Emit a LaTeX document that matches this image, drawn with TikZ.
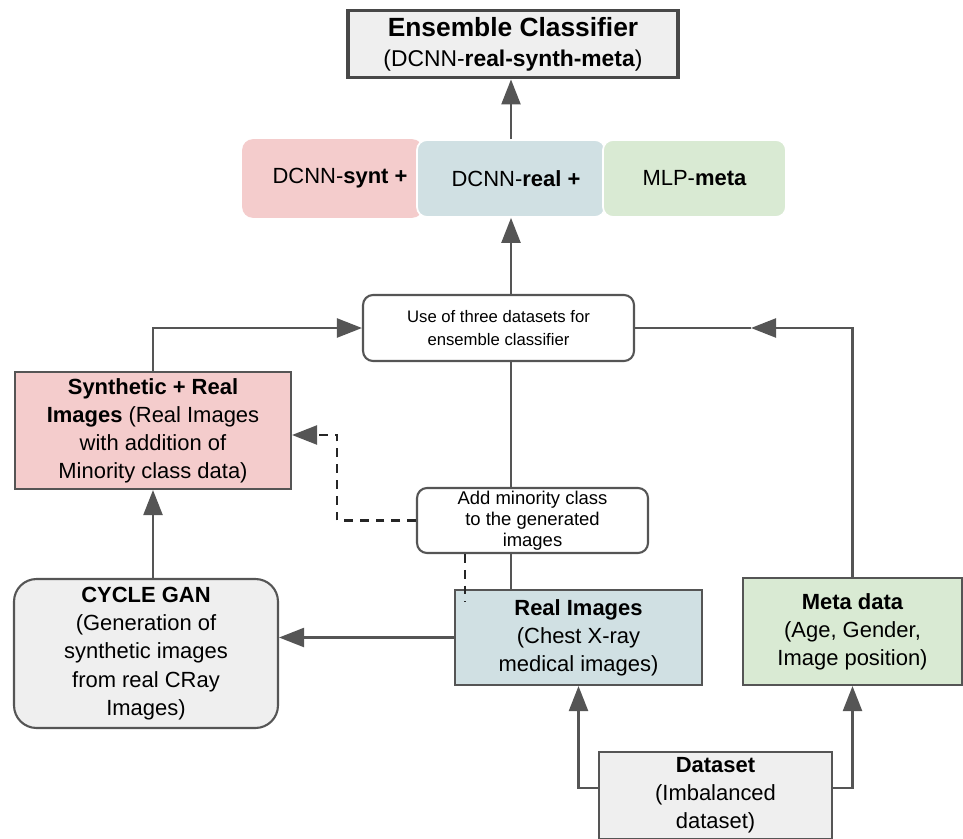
\documentclass[tikz,border=0pt]{standalone}
\usepackage{fontspec}
\setmainfont{Liberation Sans}
\usetikzlibrary{arrows.meta}

\definecolor{linegray}{HTML}{555555}
\definecolor{pinkfill}{HTML}{F4CCCC}
\definecolor{bluefill}{HTML}{D0E0E3}
\definecolor{greenfill}{HTML}{D9EAD3}
\definecolor{grayfill}{HTML}{EFEFEF}

\begin{document}
\begin{tikzpicture}[x=0.02cm, y=-0.02cm,
    box/.style={draw=linegray, line width=1.2pt, align=center, inner sep=0pt,
                font=\fontsize{12.5}{16}\selectfont},
    model/.style={draw=white, line width=1pt, rounded corners=0.2cm, align=center,
                inner sep=0pt, minimum width=#1, minimum height=1.54cm,
                font=\fontsize{12.5}{16}\selectfont},
    note/.style={draw=linegray, line width=1.2pt, rounded corners=0.2cm, fill=white,
                align=center, inner sep=0pt},
    line/.style={draw=linegray, line width=1.3pt},
    arr/.style={line, -{Triangle[length=0.5cm, width=0.38cm]}},
    dasharr/.style={line, dash pattern=on 5pt off 4pt, draw=black!85,
                -{Triangle[length=0.5cm, width=0.38cm, fill=linegray, color=linegray]}},
    dashln/.style={line, dash pattern=on 5pt off 4pt, draw=black!85}]

    \useasboundingbox (0,0) rectangle (963,838);

    % Clasificador final
    \node[box, fill=grayfill, draw=linegray!85!black, line width=2.2pt,
          minimum width=6.6cm, minimum height=1.34cm,
          font=\fontsize{13}{17}\selectfont] (ensemble) at (513,44)
        {{\bfseries\fontsize{15}{17}\selectfont Ensemble Classifier}\\(DCNN-\textbf{real-synth-meta})};

    % Modelos
    \node[model=3.58cm, fill=pinkfill, draw=pinkfill] (synt) at (332.5,178.5)
        {\hspace*{0.3cm}DCNN-\textbf{synt +}};
    \node[model=3.76cm, fill=bluefill] (real) at (511,178.5) {\hspace*{0.2cm}DCNN-\textbf{real +}};
    \node[model=3.66cm, fill=greenfill] (mlp) at (694.5,178.5) {MLP-\textbf{meta}};

    % Cajas intermedias
    \node[note, minimum width=5.42cm, minimum height=1.32cm,
          font=\fontsize{9.5}{13}\selectfont] (use) at (498.5,328)
        {Use of three datasets for\\ensemble classifier};
    \node[note, minimum width=4.62cm, minimum height=1.3cm,
          font=\fontsize{10.5}{12}\selectfont] (add) at (532.5,520.5)
        {Add minority class\\to the generated\\images};

    % Datos
    \node[box, fill=pinkfill, minimum width=5.52cm, minimum height=2.34cm] (synth) at (153,430.5)
        {\textbf{Synthetic + Real}\\\textbf{Images} (Real Images\\with addition of\\Minority class data)};
    \node[box, fill=grayfill, rounded corners=0.45cm, minimum width=5.28cm, minimum height=2.98cm]
        (cycle) at (146,653.5)
        {\textbf{CYCLE GAN}\\(Generation of\\synthetic images\\from real CRay\\Images)};
    \node[box, fill=bluefill, minimum width=4.94cm, minimum height=1.9cm] (realimg) at (578.5,637.5)
        {\textbf{Real Images}\\(Chest X-ray\\medical images)};
    \node[box, fill=greenfill, minimum width=4.38cm, minimum height=2.14cm] (metadata) at (852.5,631.5)
        {\textbf{Meta data}\\(Age, Gender,\\Image position)};
    \node[box, fill=grayfill, minimum width=4.66cm, minimum height=1.74cm] (dataset) at (715.5,795.5)
        {\textbf{Dataset}\\(Imbalanced\\dataset)};

    % Puntos de paso
    \coordinate (metatip) at (751,328);
    \coordinate (bend) at (337,435);
    \coordinate (dashend) at (465,602);

    % Flechas
    \draw[arr] (real.north) -- (real.north |- ensemble.south);
    \draw[arr] (real.south |- use.north) -- (real.south);
    \draw[arr] (synth.north) |- (use.west);
    \draw[arr] (metadata.north) |- (metatip);
    \draw[line] (metatip) -- (use.east);
    \draw[line] (real.south |- use.south) -- (real.south |- add.north);
    \draw[line] (real.south |- add.south) -- (real.south |- realimg.north);
    \draw[arr] (synth.south |- cycle.north) -- (synth.south);
    \draw[arr] (realimg.west) -- (realimg.west -| cycle.east);
    \draw[arr] ([yshift=0.15cm]dataset.west) -| (realimg.south);
    \draw[arr] ([yshift=0.15cm]dataset.east) -| (metadata.south);

    % Lineas discontinuas
    \draw[dasharr] (add.west) -| (bend) -- (bend -| synth.east);
    \draw[dashln] (dashend |- add.south) -- (dashend);
\end{tikzpicture}
\end{document}
